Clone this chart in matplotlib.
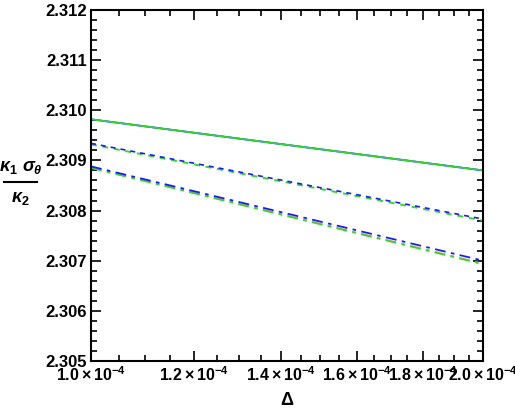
import matplotlib.pyplot as plt
import numpy as np
from matplotlib.lines import Line2D
from matplotlib.ticker import FixedLocator, NullFormatter

plt.rcParams['font.family'] = 'Liberation Sans'
plt.rcParams['font.weight'] = 'bold'
plt.rcParams['mathtext.fontset'] = 'custom'
plt.rcParams['mathtext.rm'] = 'Liberation Sans:bold'
plt.rcParams['mathtext.bf'] = 'Liberation Sans:bold'
plt.rcParams['mathtext.it'] = 'Liberation Sans:bold:italic'

# data (endpoints of each curve)
delta = [1.0e-4, 2.0e-4]
solid_blue = [2.30982, 2.30880]
solid_green = [2.30982, 2.30880]
dotted_blue = [2.30934, 2.30783]
dotted_green = [2.30932, 2.30780]
dashdot_blue = [2.30888, 2.30700]
dashdot_orange = [2.30886, 2.30694]
dashdot_green = [2.30885, 2.30693]

xticks = [1.0e-4, 1.2e-4, 1.4e-4, 1.6e-4, 1.8e-4, 2.0e-4]
xticklabels = [r'$1.0\times10^{-4}$', r'$1.2\times10^{-4}$', r'$1.4\times10^{-4}$',
               r'$1.6\times10^{-4}$', r'$1.8\times10^{-4}$', r'$2.0\times10^{-4}$']
yticks = [2.305, 2.306, 2.307, 2.308, 2.309, 2.310, 2.311, 2.312]

blue = '#1a1aff'
green = '#33d633'
orange = '#ff8c1a'

fig = plt.figure(figsize=(5.15, 4.09), dpi=100)
ax = fig.add_axes([0.1767, 0.1174, 0.7612, 0.8582])

ax.plot(delta, solid_blue, color=blue, lw=1.3)
ax.plot(delta, solid_green, color=green, lw=1.3)
ax.plot(delta, dotted_green, color=green, lw=1.4, linestyle=(0, (3, 3)))
ax.plot(delta, dotted_blue, color=blue, lw=1.2, linestyle=(0, (3, 3)))
ax.plot(delta, dashdot_orange, color=orange, lw=1.3, linestyle=(0, (6, 3, 2, 3)))
ax.plot(delta, dashdot_green, color=green, lw=1.3, linestyle=(0, (6, 3, 2, 3)))
ax.plot(delta, dashdot_blue, color=blue, lw=1.3, linestyle=(0, (6, 3, 2, 3)))

ax.set_xscale('log')
ax.set_xlim(1.0e-4, 2.0e-4)
ax.set_ylim(2.305, 2.312)
ax.xaxis.set_major_locator(FixedLocator(xticks))
ax.xaxis.set_minor_locator(FixedLocator(np.arange(1.0e-4, 2.0001e-4, 0.05e-4)))
ax.xaxis.set_minor_formatter(NullFormatter())
ax.set_xticklabels(xticklabels)
ax.set_yticks(yticks)
ax.set_yticklabels(['%.3f' % v for v in yticks])
ax.yaxis.set_minor_locator(FixedLocator(np.arange(2.305, 2.3120001, 0.0002)))

ax.tick_params(which='both', direction='in', top=True, right=True, width=1.2, pad=3)
ax.tick_params(axis='y', labelsize=12)
ax.tick_params(axis='x', labelsize=11.5)
ax.tick_params(which='major', length=7)
ax.tick_params(which='minor', length=4)
for s in ax.spines.values():
    s.set_linewidth(1.5)

ax.set_xlabel('Δ', fontsize=13, fontweight='bold', labelpad=6)

# y label as a stacked fraction
fig.text(0.040, 0.590, r'$\kappa_1\ \sigma_\theta$', fontsize=13, ha='center', va='center')
fig.add_artist(Line2D([0.008, 0.072], [0.555, 0.555], color='black', lw=1.5,
                      transform=fig.transFigure))
fig.text(0.040, 0.515, r'$\kappa_2$', fontsize=13, ha='center', va='center')

fig.savefig('out.png', dpi=100)
